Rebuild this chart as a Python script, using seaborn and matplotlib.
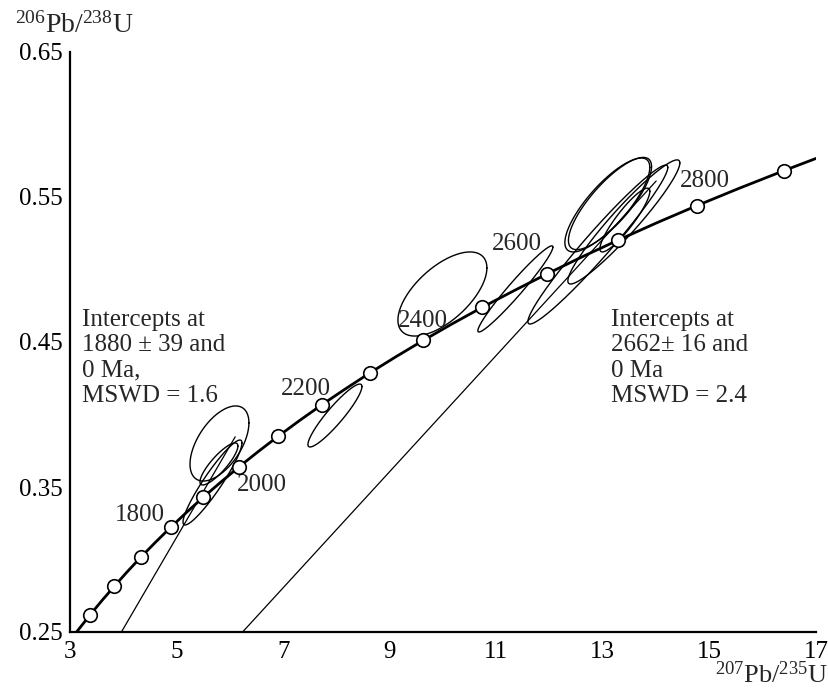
import numpy as np
import seaborn as sns
import matplotlib
matplotlib.use('Agg')
from matplotlib import pyplot as plt

# Concordia curve, 207Pb/235U vs 206Pb/238U (50 Ma steps)
conc_x = [3.123, 3.381, 3.602, 3.835, 4.078, 4.335, 4.604, 4.887, 5.184, 5.496,
          5.825, 6.169, 6.531, 6.911, 7.310, 7.730, 8.170, 8.633, 9.119, 9.630,
          10.166, 10.730, 11.322, 11.944, 12.597, 13.284, 14.005, 14.762, 15.558,
          16.393, 17.0]
conc_y = [0.2500, 0.2620, 0.2718, 0.2817, 0.2917, 0.3018, 0.3119, 0.3221, 0.3324,
          0.3428, 0.3532, 0.3638, 0.3744, 0.3851, 0.3959, 0.4068, 0.4177, 0.4288,
          0.4399, 0.4511, 0.4624, 0.4738, 0.4852, 0.4968, 0.5085, 0.5202, 0.5321,
          0.5440, 0.5560, 0.5681, 0.5766]

# Age markers every 100 Ma (1500-2900 Ma)
marker_x = [3.381, 3.835, 4.335, 4.887, 5.496, 6.169, 6.911, 7.730, 8.633, 9.630,
            10.730, 11.944, 13.284, 14.762, 16.393]
marker_y = [0.2620, 0.2817, 0.3018, 0.3221, 0.3428, 0.3638, 0.3851, 0.4068, 0.4288,
            0.4511, 0.4738, 0.4968, 0.5202, 0.5440, 0.5681]

# Age labels
age_labels = ['1800', '2000', '2200', '2400', '2600', '2800']
age_label_x = [4.31, 6.60, 7.43, 9.62, 11.39, 14.91]
age_label_y = [0.3307, 0.3514, 0.4176, 0.4645, 0.5176, 0.561]

# Error ellipses: centre, half ranges, correlation
ell_cx = [5.805, 5.674, 5.795, 7.972, 9.989, 11.358, 13.084, 13.134, 13.394, 12.906, 13.413]
ell_cy = [0.380, 0.3531, 0.3659, 0.3993, 0.4831, 0.4866, 0.5445, 0.5455, 0.5328, 0.5172, 0.5341]
ell_sx = [0.553, 0.553, 0.356, 0.507, 0.835, 0.704, 0.797, 0.78, 1.051, 1.313, 0.469]
ell_sy = [0.0259, 0.0293, 0.0145, 0.0217, 0.0290, 0.0297, 0.0324, 0.0318, 0.0428, 0.0548, 0.022]
ell_rho = [0.55, 0.93, 0.85, 0.92, 0.62, 0.97, 0.80, 0.80, 0.95, 0.97, 0.90]

# Discordia lines (lower intercept 0 Ma)
disc_left_x = [3.965, 6.1]
disc_left_y = [0.25, 0.3846]
disc_right_x = [6.239, 14.0]
disc_right_y = [0.25, 0.561]

left_note = 'Intercepts at\n1880 \u00b1 39 and\n0 Ma,\nMSWD = 1.6'
right_note = 'Intercepts at\n2662\u00b1 16 and\n0 Ma\nMSWD = 2.4'

sns.set_theme(style='white')
plt.rcParams['font.family'] = ['Liberation Serif', 'DejaVu Serif']
plt.rcParams['mathtext.fontset'] = 'custom'
plt.rcParams['mathtext.rm'] = 'Liberation Serif'
plt.rcParams['mathtext.it'] = 'Liberation Serif:italic'

fig = plt.figure(figsize=(8.29, 6.90), dpi=100)
ax = fig.add_axes([70 / 829, 58 / 690, 746 / 829, 580 / 690])

# discordia lines
ax.plot(disc_left_x, disc_left_y, color='black', lw=0.9)
ax.plot(disc_right_x, disc_right_y, color='black', lw=0.9)

# error ellipses
t = np.linspace(0, 2 * np.pi, 200)
for cx, cy, sx, sy, r in zip(ell_cx, ell_cy, ell_sx, ell_sy, ell_rho):
    ex = cx + sx * np.cos(t)
    ey = cy + sy * (r * np.cos(t) + np.sqrt(1 - r ** 2) * np.sin(t))
    ax.plot(ex, ey, color='black', lw=1.0)

# concordia
sns.lineplot(x=conc_x, y=conc_y, ax=ax, color='black', lw=2.0, sort=False,
             estimator=None, zorder=4)
sns.scatterplot(x=marker_x, y=marker_y, ax=ax, s=95, color='white',
                edgecolor='black', linewidth=1.2, zorder=5)

for txt, x, y in zip(age_labels, age_label_x, age_label_y):
    ax.text(x, y, txt, fontsize=18, ha='center', va='center')

ax.text(3.225, 0.439, left_note, fontsize=18, ha='left', va='center')
ax.text(13.15, 0.439, right_note, fontsize=18, ha='left', va='center')

ax.set_xlim(3, 17)
ax.set_ylim(0.25, 0.65)
ax.set_xticks([3, 5, 7, 9, 11, 13, 15, 17])
ax.set_yticks([0.25, 0.35, 0.45, 0.55, 0.65])
ax.set_yticklabels(['0.25', '0.35', '0.45', '0.55', '0.65'])
ax.tick_params(direction='in', length=6.5, width=1.4, labelsize=18, colors='black')
ax.tick_params(axis='x', pad=6.5)
ax.tick_params(axis='y', pad=5)
sns.despine(ax=ax)
for s in ['left', 'bottom']:
    ax.spines[s].set_linewidth(1.6)
    ax.spines[s].set_color('black')

fig.text(15 / 829, 1 - 33 / 690, r'$^{206}$Pb/$^{238}$U', fontsize=20,
         ha='left', va='baseline')
fig.text(828 / 829, 1 - 683 / 690, r'$^{207}$Pb/$^{235}$U', fontsize=19,
         ha='right', va='baseline')

fig.savefig('out.png', dpi=100)
